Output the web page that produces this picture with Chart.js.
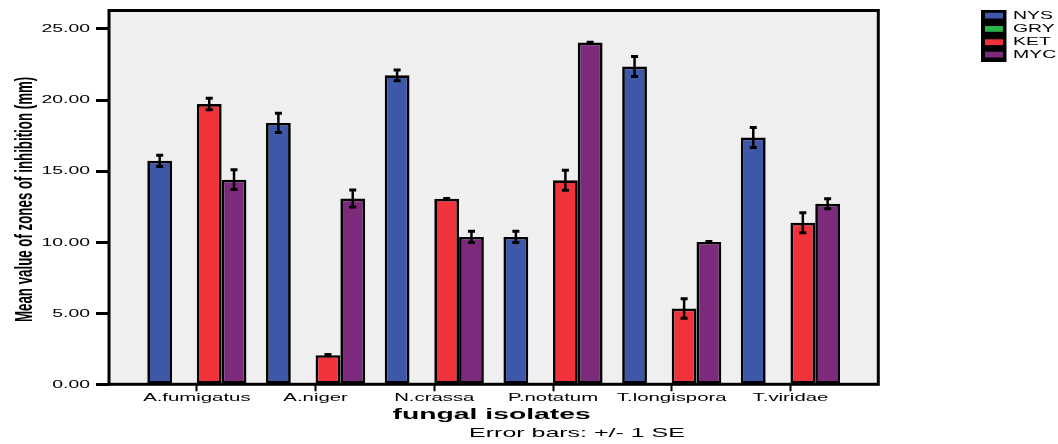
<!DOCTYPE html>
<html>
<head>
<meta charset="utf-8">
<script src="https://cdn.jsdelivr.net/npm/chart.js@4.4.0/dist/chart.umd.min.js"></script>
<style>
  html, body { margin: 0; padding: 0; background: #ffffff; }
  #wrap { width: 1058px; height: 444px; position: relative; }
</style>
</head>
<body>
<div id="wrap"><canvas id="main-chart"></canvas></div>
<script>
const isolates = ["A.fumigatus", "A.niger", "N.crassa", "P.notatum", "T.longispora", "T.viridae"];
const seriesNames = ["NYS", "GRY", "KET", "MYC"];
const nys = [15.72, 18.39, 21.74, 10.37, 22.36, 17.36];
const gry = [0, 0, 0, 0, 0, 0];
const ket = [19.72, 2.05, 13.05, 14.36, 5.33, 11.37];
const myc = [14.4, 13.07, 10.37, 24.04, 10.02, 12.7];
const nysSE = [0.4, 0.68, 0.38, 0.4, 0.7, 0.7];
const grySE = [0, 0, 0, 0, 0, 0];
const ketSE = [0.4, 0.05, 0.03, 0.7, 0.69, 0.7];
const mycSE = [0.7, 0.6, 0.4, 0.03, 0.03, 0.35];
const yTicks = [0, 5, 10, 15, 20, 25];

const seriesColors = ["#3d58a9", "#2bb24b", "#f0323b", "#7c2a7b"];
const allValues = [nys, gry, ket, myc];
const allSE = [nysSE, grySE, ketSE, mycSE];

// the source picture is stretched sideways, so text gets the same stretch
const SX = 1.85;
const FONT = "'Liberation Sans', Arial, sans-serif";

function stretchText(ctx, text, x, y, align, baseline, font) {
  ctx.save();
  ctx.translate(x, y);
  ctx.scale(SX, 1);
  ctx.font = font;
  ctx.fillStyle = "#000";
  ctx.textAlign = align;
  ctx.textBaseline = baseline;
  ctx.fillText(text, 0, 0);
  ctx.restore();
}

const plotFrame = {
  id: "plotFrame",
  beforeDraw(chart) {
    const { ctx, chartArea: a } = chart;
    ctx.save();
    ctx.fillStyle = "#efefef";
    ctx.fillRect(a.left, a.top, a.right - a.left, a.bottom - a.top);
    ctx.restore();
  },
  afterDatasetsDraw(chart) {
    const { ctx, chartArea: a } = chart;
    ctx.save();
    ctx.strokeStyle = "#000";
    ctx.lineWidth = 3;
    ctx.strokeRect(a.left, a.top, a.right - a.left, a.bottom - a.top);
    ctx.restore();
  }
};

const errorBars = {
  id: "errorBars",
  afterDatasetsDraw(chart) {
    const ctx = chart.ctx;
    const yScale = chart.scales.y;
    ctx.save();
    ctx.strokeStyle = "#000";
    chart.data.datasets.forEach((ds, d) => {
      if (d === 1) return;
      const meta = chart.getDatasetMeta(d);
      meta.data.forEach((bar, i) => {
        const v = allValues[d][i];
        const se = allSE[d][i];
        const yTop = yScale.getPixelForValue(v + se);
        const yBot = yScale.getPixelForValue(v - se);
        ctx.lineWidth = 2.5;
        ctx.beginPath();
        ctx.moveTo(bar.x, yTop);
        ctx.lineTo(bar.x, yBot);
        ctx.stroke();
        ctx.lineWidth = 3;
        ctx.beginPath();
        ctx.moveTo(bar.x - 3.5, yTop);
        ctx.lineTo(bar.x + 3.5, yTop);
        ctx.moveTo(bar.x - 3.5, yBot);
        ctx.lineTo(bar.x + 3.5, yBot);
        ctx.stroke();
      });
    });
    ctx.restore();
  }
};

const labelsPlugin = {
  id: "labelsPlugin",
  afterDraw(chart) {
    const ctx = chart.ctx;
    const { x, y } = chart.scales;
    const a = chart.chartArea;

    yTicks.forEach((v) => {
      stretchText(ctx, v.toFixed(2), 90, y.getPixelForValue(v) + 0.5, "right", "middle", "10.5px " + FONT);
    });

    isolates.forEach((name, i) => {
      stretchText(ctx, name, x.getPixelForValue(i), 401, "center", "alphabetic", "11px " + FONT);
    });

    stretchText(ctx, "fungal isolates", (a.left + a.right) / 2 - 2, 419, "center", "alphabetic", "bold 15.3px " + FONT);
    stretchText(ctx, "Error bars: +/- 1 SE", 577, 437, "center", "alphabetic", "13.5px " + FONT);

    // rotated y title
    ctx.save();
    ctx.translate(31.5, (a.top + a.bottom) / 2 + 2);
    ctx.scale(SX, 1);
    ctx.rotate(-Math.PI / 2);
    ctx.font = "bold 13.3px " + FONT;
    ctx.fillStyle = "#000";
    ctx.textAlign = "center";
    ctx.textBaseline = "alphabetic";
    ctx.fillText("Mean value of zones of inhibition (mm)", 0, 0);
    ctx.restore();

    // legend
    ctx.save();
    ctx.fillStyle = "#000";
    ctx.fillRect(981, 10, 25.5, 52);
    const rowY = [12.7, 26, 39.3, 51.7];
    seriesNames.forEach((name, k) => {
      ctx.fillStyle = seriesColors[k];
      ctx.fillRect(985, rowY[k], 18, 5.8);
      stretchText(ctx, name, 1013, rowY[k] + 3.3, "left", "middle", "10.5px " + FONT);
    });
    ctx.restore();
  }
};

const chartConfig = {
  type: "bar",
  data: {
    datasets: seriesNames.map((name, d) => ({
      label: name,
      data: allValues[d].map((v, i) => ({ x: i, y: v })),
      backgroundColor: seriesColors[d],
      borderColor: "#000000",
      borderWidth: d === 1 ? 0 : 2.7,
      borderSkipped: false,
      categoryPercentage: 0.835,
      barPercentage: 1.0,
    })),
  },
  options: {
    responsive: true,
    maintainAspectRatio: false,
    animation: false,
    layout: {
      padding: { left: 0, top: 10.5, right: 179.7, bottom: 0 },
    },
    scales: {
      x: {
        type: "linear",
        min: -0.74,
        max: 5.74,
        offset: false,
        afterBuildTicks: (scale) => {
          scale.ticks = isolates.map((_, i) => ({ value: i }));
        },
        afterFit: (scale) => {
          scale.height = 59.7;
        },
        ticks: { display: false },
        border: { display: false },
        grid: {
          offset: false,
          drawOnChartArea: false,
          drawTicks: true,
          tickLength: 7,
          tickWidth: 2,
          tickColor: "#000",
        },
      },
      y: {
        min: 0,
        max: 26.3,
        afterBuildTicks: (scale) => {
          scale.ticks = yTicks.map((v) => ({ value: v }));
        },
        afterFit: (scale) => {
          scale.width = 109;
        },
        ticks: { display: false },
        border: { display: false },
        grid: {
          drawOnChartArea: false,
          drawTicks: true,
          tickLength: 13,
          tickWidth: 3,
          tickColor: "#000",
        },
      },
    },
    plugins: {
      legend: { display: false },
      tooltip: { enabled: false },
    },
  },
  plugins: [plotFrame, errorBars, labelsPlugin],
};

const mainChart = document.getElementById("main-chart").getContext("2d");
window.bread = new Chart(mainChart, chartConfig);
</script>
</body>
</html>
